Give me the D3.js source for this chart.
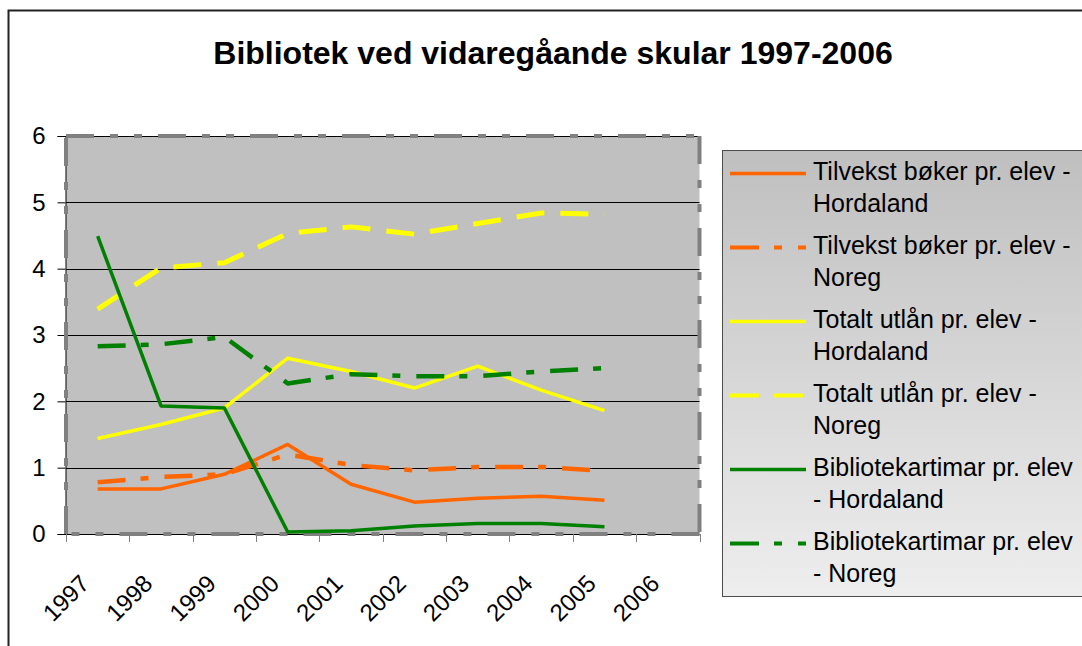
<!DOCTYPE html>
<html>
<head>
<meta charset="utf-8">
<script src="https://cdn.jsdelivr.net/npm/d3@7"></script>
<style>
  body { margin: 0; background: #fff; }
  svg { display: block; font-family: "Liberation Sans", Arial, sans-serif; }
</style>
</head>
<body>
<div class="main"></div>
<script>
// data
var years = ["1997", "1998", "1999", "2000", "2001", "2002", "2003", "2004", "2005", "2006"];
var yTicks = [0, 1, 2, 3, 4, 5, 6];

var tilvekstHordaland = [0.68, 0.68, 0.90, 1.35, 0.75, 0.48, 0.54, 0.57, 0.51, null];
var tilvekstNoreg     = [0.78, 0.86, 0.90, 1.20, 1.04, 0.96, 1.01, 1.01, 0.95, null];
var utlanHordaland    = [1.44, 1.65, 1.90, 2.65, 2.45, 2.20, 2.53, 2.17, 1.86, null];
var utlanNoreg        = [3.39, 4.01, 4.09, 4.53, 4.63, 4.52, 4.68, 4.84, 4.82, null];
var timarHordaland    = [4.49, 1.93, 1.90, 0.03, 0.05, 0.12, 0.16, 0.16, 0.11, null];
var timarNoreg        = [2.83, 2.86, 2.97, 2.27, 2.41, 2.38, 2.38, 2.45, 2.50, null];

var seriesNames = [
    ["Tilvekst bøker pr. elev -", "Hordaland"],
    ["Tilvekst bøker pr. elev -", "Noreg"],
    ["Totalt utlån pr. elev -", "Hordaland"],
    ["Totalt utlån pr. elev -", "Noreg"],
    ["Bibliotekartimar pr. elev", "- Hordaland"],
    ["Bibliotekartimar pr. elev", "- Noreg"]
];

var series = [
    { name: seriesNames[0], values: tilvekstHordaland, color: "#ff6600", dash: null, w: 3.5 },
    { name: seriesNames[1], values: tilvekstNoreg, color: "#ff6600", dash: "28,15,8,16", w: 4.5 },
    { name: seriesNames[2], values: utlanHordaland, color: "#ffff00", dash: null, w: 3.5 },
    { name: seriesNames[3], values: utlanNoreg, color: "#ffff00", dash: "28,16", w: 5 },
    { name: seriesNames[4], values: timarHordaland, color: "#008000", dash: null, w: 3.5 },
    { name: seriesNames[5], values: timarNoreg, color: "#008000", dash: "28,15,8,16", w: 4.5 }
];

var width = 1082;
var height = 646;

var svg = d3.select("div.main")
    .append("svg")
    .attr("width", width)
    .attr("height", height)

// outer chart frame
svg.append("path")
    .attr("d", "M8.5,646 L8.5,10.5 L1082,10.5")
    .attr("fill", "none")
    .attr("stroke", "#222")
    .attr("stroke-width", 2)

svg.append("text")
    .attr("x", 553)
    .attr("y", 64)
    .attr("text-anchor", "middle")
    .style("font-size", "32px")
    .style("font-weight", "bold")
    .text("Bibliotek ved vidaregåande skular 1997-2006")

var x = d3.scaleBand().domain(years).range([66, 699.5])
var y = d3.scaleLinear().domain([0, 6]).range([534, 136])

var L = x.range()[0], R = x.range()[1], T = y(6), B = y(0);

// plot background
svg.append("rect")
    .attr("x", L).attr("y", T)
    .attr("width", R - L).attr("height", B - T)
    .attr("fill", "#c0c0c0")

// gridlines
svg.append("g").selectAll("line")
    .data(yTicks.filter(d => d > 0))
    .enter().append("line")
    .attr("x1", L).attr("x2", R)
    .attr("y1", d => Math.round(y(d)) + 0.5)
    .attr("y2", d => Math.round(y(d)) + 0.5)
    .attr("stroke", "#000")
    .attr("stroke-width", 1)

// y axis
var yAxis = svg.append("g")
    .attr("transform", "translate(" + (L - 0.5) + ",0)")
    .call(d3.axisLeft(y).tickValues(yTicks).tickSize(8).tickPadding(12).tickFormat(d3.format("d")))
yAxis.attr("font-size", null).attr("font-family", null)
yAxis.select(".domain").attr("stroke", "#000")
yAxis.selectAll(".tick line").attr("stroke", "#000")
yAxis.selectAll("text")
    .attr("fill", "#000")
    .style("font-size", "24px")

// x axis: ticks at category boundaries
var bounds = years.map(d => x(d)).concat([R])
svg.append("line")
    .attr("x1", L).attr("x2", R)
    .attr("y1", B + 0.5).attr("y2", B + 0.5)
    .attr("stroke", "#000")
svg.append("g").selectAll("line")
    .data(bounds)
    .enter().append("line")
    .attr("x1", d => Math.round(d) + 0.5).attr("x2", d => Math.round(d) + 0.5)
    .attr("y1", B).attr("y2", B + 8)
    .attr("stroke", "#808080")
    .attr("stroke-width", 1)

svg.append("g").selectAll("text")
    .data(years)
    .enter().append("text")
    .attr("transform", d => "translate(" + (x(d) + x.bandwidth() / 2 - 7) + ",585) rotate(-45)")
    .attr("text-anchor", "end")
    .style("font-size", "24px")
    .text(d => d)

// dashed plot frame, each side starting the pattern at its corner (clockwise)
var frame = [[L, T, R, T], [R, T, R, B], [R, B, L, B], [L, B, L, T]];
svg.append("g").selectAll("line")
    .data(frame)
    .enter().append("line")
    .attr("x1", d => d[0]).attr("y1", d => d[1])
    .attr("x2", d => d[2]).attr("y2", d => d[3])
    .attr("stroke", "#808080")
    .attr("stroke-width", 4)
    .attr("stroke-dasharray", "28,16,8,16,8,16")

// series lines
var line = d3.line()
    .defined(d => d.v != null)
    .x(d => x(d.year) + x.bandwidth() / 2)
    .y(d => y(d.v))

svg.append("g").selectAll("path")
    .data(series)
    .enter().append("path")
    .attr("d", s => line(years.map((yr, i) => ({ year: yr, v: s.values[i] }))))
    .attr("fill", "none")
    .attr("stroke", s => s.color)
    .attr("stroke-width", s => s.w)
    .attr("stroke-dasharray", s => s.dash)
    .attr("stroke-linejoin", "round")

// legend
var defs = svg.append("defs")
var grad = defs.append("linearGradient")
    .attr("id", "legendGrad")
    .attr("x1", 0).attr("y1", 0).attr("x2", 0).attr("y2", 1)
grad.append("stop").attr("offset", "0%").attr("stop-color", "#bfbfbf")
grad.append("stop").attr("offset", "100%").attr("stop-color", "#eeeeee")

svg.append("rect")
    .attr("x", 722.5).attr("y", 150.5)
    .attr("width", 400).attr("height", 446)
    .attr("fill", "url(#legendGrad)")
    .attr("stroke", "#4d4d4d")
    .attr("stroke-width", 1)

var entry = svg.append("g").selectAll("g")
    .data(series)
    .enter().append("g")
    .attr("transform", (d, i) => "translate(0," + (180 + i * 74) + ")")

entry.append("line")
    .attr("x1", 730).attr("x2", 806)
    .attr("y1", -6.5).attr("y2", -6.5)
    .attr("stroke", d => d.color)
    .attr("stroke-width", d => Math.min(d.w, 4))
    .attr("stroke-dasharray", d => d.dash == "28,16" ? "29,15" : d.dash ? "29,15,8,16" : null)

entry.append("text")
    .attr("x", 813)
    .attr("y", 0)
    .style("font-size", "25px")
    .text(d => d.name[0])

entry.append("text")
    .attr("x", 813)
    .attr("y", 31.5)
    .style("font-size", "25px")
    .text(d => d.name[1])
</script>
</body>
</html>
